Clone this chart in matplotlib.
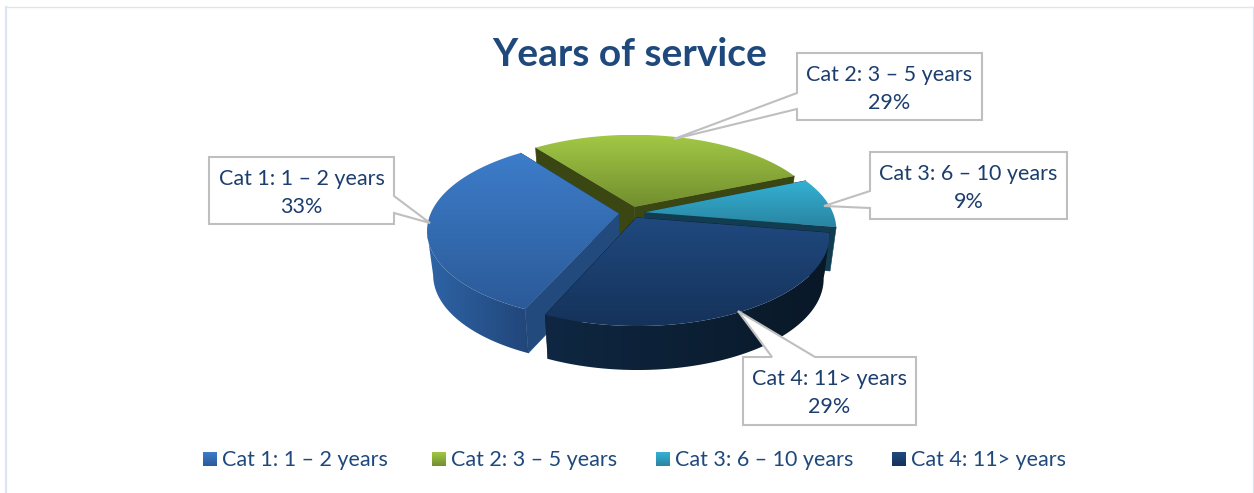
import numpy as np
import matplotlib
matplotlib.use("Agg")
import matplotlib.pyplot as plt
from matplotlib.colors import to_rgb
from matplotlib.patches import Polygon

plt.rcParams["font.family"] = ["Lato", "DejaVu Sans"]

TITLE = "Years of service"
CATEGORIES = ["Cat 1: 1 – 2 years", "Cat 2: 3 – 5 years", "Cat 3: 6 – 10 years", "Cat 4: 11> years"]
SHARES = [33, 29, 9, 29]
EXPLODE = [0.065, 0.075, 0.075, 0.06]

# top gradient (upper, lower), side gradient (left, right), cut face
TOP_COLORS = [("#3d7dca", "#2b5a98"), ("#a2c845", "#728e2e"), ("#34b2d4", "#2a84a2"), ("#20497f", "#15325a")]
SIDE_COLORS = [("#2e64a6", "#21467a"), ("#4a5a1a", "#3c4a14"), ("#1a6a85", "#124a60"), ("#0f2742", "#091827")]
CUT_COLORS = ["#234a7c", "#3a4713", "#123c50", "#0a1c30"]
DRAW_ORDER = [1, 2, 0, 3]

TEXT_COLOR = "#1f497d"
LABEL_COLOR = "#1c3e6e"
LINE_COLOR = "#bfbfbf"
FRAME_COLOR = "#dce6f2"

# pie projection, in pixels
CX, CY = 631, 213
RX, RY, PERSP = 188, 87, 0.18
DEPTH, SHRINK = 44, 0.03

# callouts: box, tip, pointer base
CALLOUTS = [
    dict(box=(209, 157, 394, 224), pts=[(394, 196), (430, 223), (394, 213)]),
    dict(box=(797, 53, 982, 120), pts=[(797, 93), (674, 139), (797, 109)]),
    dict(box=(870, 152, 1067, 219), pts=[(870, 191), (824, 206), (870, 208)]),
    dict(box=(743, 357, 916, 425), pts=[(772, 357), (738, 311), (815, 357)]),
]
LEGEND_X = [203, 432, 656, 892]


def project(u, v, drop=0.0):
    w = 1 + PERSP * v
    x = CX + RX * u / w * (1 - SHRINK * drop)
    y = CY - RY * v / w + DEPTH * drop
    return x, y


def gradient_fill(ax, pts, c1, c2, zorder, horizontal=False):
    pts = np.asarray(pts)
    x0, y0 = pts.min(axis=0)
    x1, y1 = pts.max(axis=0)
    t = np.linspace(0, 1, 128)
    t = t[None, :, None] if horizontal else t[:, None, None]
    img = (1 - t) * np.array(to_rgb(c1)) + t * np.array(to_rgb(c2))
    im = ax.imshow(img, extent=(x0, x1, y1, y0), aspect="auto", zorder=zorder, interpolation="bilinear")
    clip = Polygon(pts, closed=True, transform=ax.transData)
    im.set_clip_path(clip)


def draw_slice(ax, wedge, i, z):
    cu, cv = wedge.center
    ts = np.radians(np.linspace(wedge.theta1, wedge.theta2, 120))
    us, vs = cu + np.cos(ts), cv + np.sin(ts)
    top = np.column_stack(project(us, vs))
    low = np.column_stack(project(us, vs, 1.0))
    apex_top = project(cu, cv)
    apex_low = project(cu, cv, 1.0)

    # cut faces
    for j in (0, -1):
        face = [apex_top, tuple(top[j]), tuple(low[j]), apex_low]
        ax.add_patch(Polygon(face, closed=True, fc=CUT_COLORS[i], ec=CUT_COLORS[i], lw=0.4, zorder=z))

    # outer wall, from the silhouette point round the side facing the viewer
    front = np.where(np.sin(ts) < -PERSP)[0]
    if len(front) > 1:
        wall = np.vstack([top[front], low[front][::-1]])
        gradient_fill(ax, wall, SIDE_COLORS[i][0], SIDE_COLORS[i][1], z + 0.1, horizontal=True)

    # top surface
    pts = np.vstack([[apex_top], top])
    gradient_fill(ax, pts, TOP_COLORS[i][0], TOP_COLORS[i][1], z + 0.2)


def main():
    fig = plt.figure(figsize=(12.54, 4.93), dpi=100)
    ax = fig.add_axes([0, 0, 1, 1])

    wedges, _ = ax.pie(SHARES, explode=EXPLODE, startangle=246.1, counterclock=False)
    for w in wedges:
        w.set_visible(False)
    ax.set_aspect("auto")

    for n, i in enumerate(DRAW_ORDER):
        draw_slice(ax, wedges[i], i, 2 + n)

    # chart frame, open at the bottom
    ax.plot([6, 6], [493, 7], color=FRAME_COLOR, lw=1.6, zorder=1)
    ax.plot([6, 1253], [7, 7], color=FRAME_COLOR, lw=1.0, zorder=1)
    ax.plot([1253, 1253], [7, 493], color=FRAME_COLOR, lw=1.0, zorder=1)

    ax.text(630, 54, TITLE, fontsize=28, fontweight="bold", color=TEXT_COLOR, ha="center", va="center", zorder=1.5)

    for i, c in enumerate(CALLOUTS):
        x0, y0, x1, y1 = c["box"]
        p = c["pts"]
        if p[0][0] == x0:  # pointer on left side
            outline = [(x0, y0), (x1, y0), (x1, y1), (x0, y1), p[2], p[1], p[0]]
        elif p[0][0] == x1:  # right side
            outline = [(x0, y0), (x1, y0), p[0], p[1], p[2], (x1, y1), (x0, y1)]
        else:  # top side
            outline = [(x0, y0), p[0], p[1], p[2], (x1, y0), (x1, y1), (x0, y1)]
        ax.add_patch(Polygon(outline, closed=True, fc="white", ec=LINE_COLOR, lw=1.5, joinstyle="miter", zorder=10))
        xm = (x0 + x1) / 2
        ax.text(xm, y0 + 22, CATEGORIES[i], fontsize=15.5, color=LABEL_COLOR, ha="center", va="center", zorder=11)
        ax.text(xm, y0 + 50, f"{SHARES[i]}%", fontsize=15.5, color=LABEL_COLOR, ha="center", va="center", zorder=11)

    for i, x in enumerate(LEGEND_X):
        square = [(x, 452), (x + 14, 452), (x + 14, 466), (x, 466)]
        gradient_fill(ax, square, TOP_COLORS[i][0], TOP_COLORS[i][1], 5)
        ax.text(x + 19, 460, CATEGORIES[i], fontsize=15.5, color=TEXT_COLOR, ha="left", va="center", zorder=5)

    ax.set_xlim(0, 1254)
    ax.set_ylim(493, 0)
    ax.axis("off")

    fig.savefig("out.png", dpi=100, facecolor="white")
    plt.close(fig)


if __name__ == "__main__":
    main()
